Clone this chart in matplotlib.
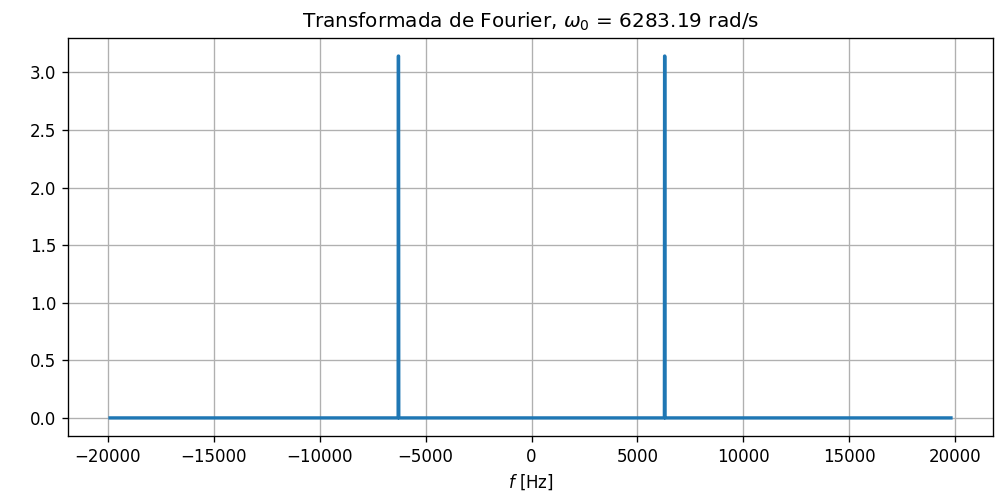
import numpy as np
import matplotlib
matplotlib.use('Agg')
import matplotlib.pyplot as plt

w0 = 6283.19
# frequency samples (Hz) and magnitude of the transform
freqs = [-19900, -6300, -6290, -6280, -6270, 6270, 6280, 6290, 6300, 19800]
amps = [0.0, 0.0, 3.1416, 3.1416, 0.0, 0.0, 3.1416, 3.1416, 0.0, 0.0]

dpi = 120
fig = plt.figure(figsize=(996 / dpi, 503 / dpi), dpi=dpi)
ax = fig.add_axes([0.0683, 0.1332, 0.9287, 0.7913])
ax.plot(freqs, amps, color='#1f77b4', linewidth=2)
ax.grid(True, color='#b0b0b0', linewidth=0.8)
ax.set_title('Transformada de Fourier, $\\omega_0$ = %.2f rad/s' % w0, fontsize=12)
ax.set_xlabel('$f$ [Hz]')
ax.set_xticks(np.arange(-20000, 20001, 5000))

fig.savefig('out.png', dpi=dpi)
